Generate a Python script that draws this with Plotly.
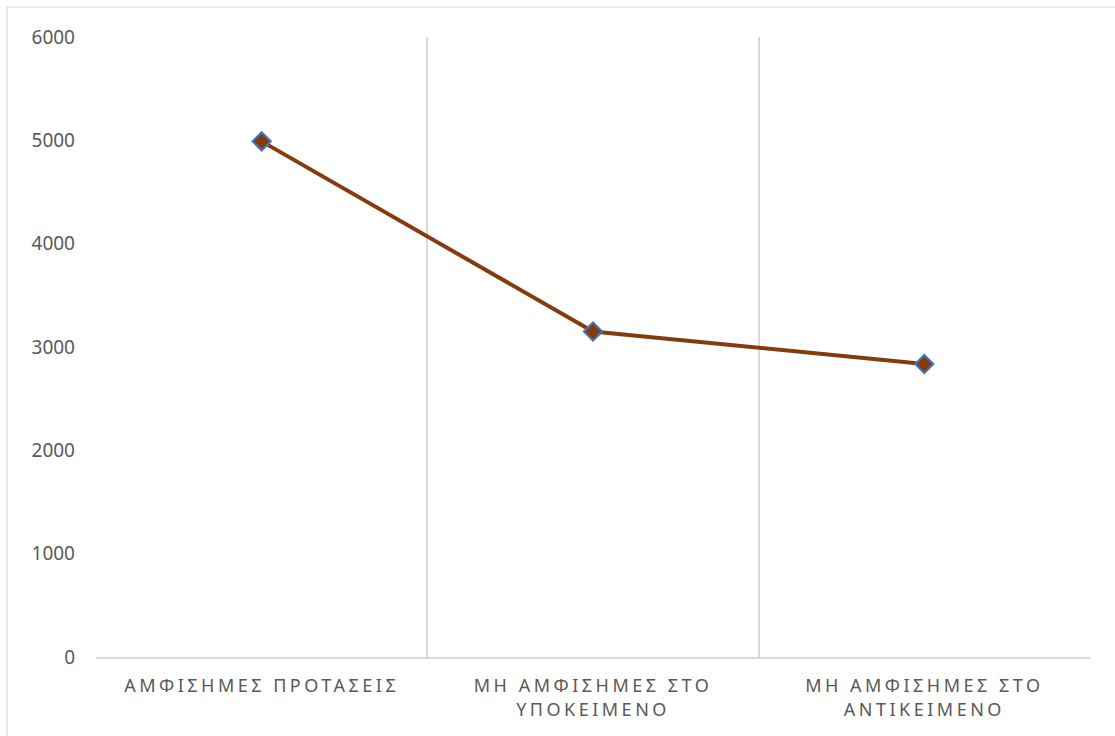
import plotly.graph_objects as go

# Category labels (line break where the label wraps) and series values
categories = [
    "ΑΜΦΙΣΗΜΕΣ ΠΡΟΤΑΣΕΙΣ",
    "ΜΗ ΑΜΦΙΣΗΜΕΣ ΣΤΟ<br>ΥΠΟΚΕΙΜΕΝΟ",
    "ΜΗ ΑΜΦΙΣΗΜΕΣ ΣΤΟ<br>ΑΝΤΙΚΕΙΜΕΝΟ",
]
values = [4990, 3150, 2835]
y_ticks = [0, 1000, 2000, 3000, 4000, 5000, 6000]

LINE_COLOR = "#843C0C"
MARKER_EDGE = "#4472C4"
TEXT_COLOR = "#595959"
GRID_COLOR = "#D9D9D9"

fig = go.Figure(
    go.Scatter(
        x=categories,
        y=values,
        mode="lines+markers",
        line=dict(color=LINE_COLOR, width=4),
        marker=dict(
            symbol="diamond",
            size=14,
            color=LINE_COLOR,
            line=dict(color=MARKER_EDGE, width=2),
        ),
        showlegend=False,
    )
)

fig.update_layout(
    width=1115,
    height=736,
    margin=dict(l=96, r=25, t=37, b=79),
    paper_bgcolor="white",
    plot_bgcolor="white",
    font=dict(family="Noto Sans", color=TEXT_COLOR),
    xaxis=dict(
        type="category",
        tickson="boundaries",
        showgrid=True,
        gridcolor=GRID_COLOR,
        gridwidth=1.5,
        showline=True,
        linecolor=GRID_COLOR,
        linewidth=1.5,
        ticks="",
        tickfont=dict(size=18, color=TEXT_COLOR),
        ticklabelstandoff=12,
        range=[-0.5, 2.5],
    ),
    yaxis=dict(
        range=[0, 6000],
        tickvals=y_ticks,
        showgrid=False,
        zeroline=False,
        showline=False,
        ticks="",
        tickfont=dict(size=19, color=TEXT_COLOR),
        ticklabelstandoff=20,
    ),
    shapes=[
        # outer chart-area frame
        dict(
            type="rect",
            xref="paper",
            yref="paper",
            x0=-0.0895,
            x1=1.03,
            y0=-0.2,
            y1=1.0484,
            line=dict(color="#D9D9D9", width=1.2),
            fillcolor="rgba(0,0,0,0)",
            layer="below",
        )
    ],
)

# widen the spacing of the category label letters
post_js = """
document.querySelectorAll('.xtick text').forEach(function(t){
  t.style.letterSpacing = '3.5px';
});
"""

fig.write_html("out.html", post_script=post_js)
